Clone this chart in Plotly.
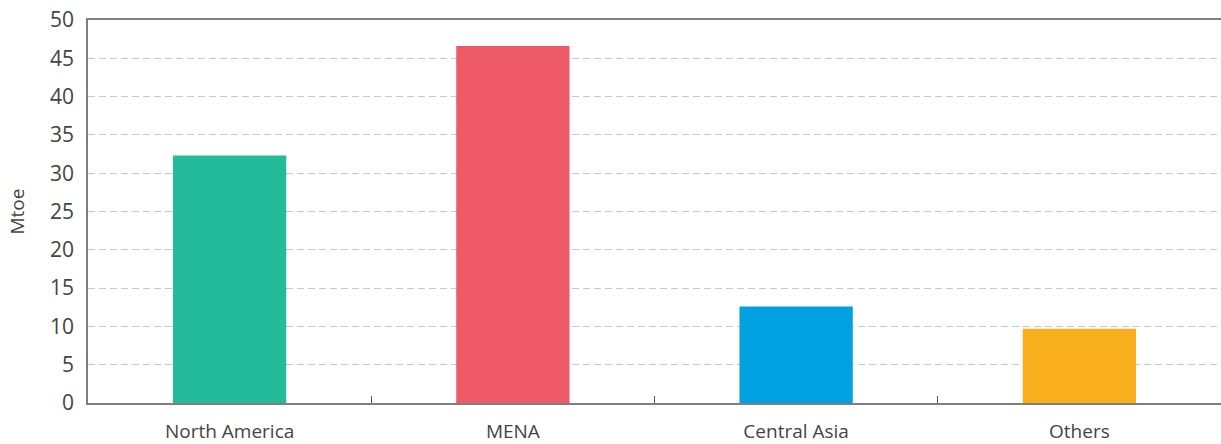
import plotly.graph_objects as go

categories = ["North America", "MENA", "Central Asia", "Others"]
values = [32.3, 46.6, 12.6, 9.7]
colors = ["#24BB9B", "#EF5A69", "#00A0E1", "#F8AE1D"]
y_ticks = [0, 5, 10, 15, 20, 25, 30, 35, 40, 45, 50]

fig = go.Figure(
    go.Bar(
        x=categories,
        y=values,
        marker=dict(color=colors, line=dict(width=0)),
        width=0.4,
    )
)

fig.update_layout(
    width=1221,
    height=444,
    margin=dict(l=88, r=0, t=20, b=41),
    paper_bgcolor="white",
    plot_bgcolor="white",
    showlegend=False,
    font=dict(family="Open Sans", color="#444444"),
)

fig.update_xaxes(
    showline=True,
    linecolor="#7f7f7f",
    linewidth=1.5,
    mirror=True,
    ticks="inside",
    tickson="boundaries",
    ticklen=7,
    tickcolor="#555555",
    tickwidth=1,
    showgrid=False,
    tickfont=dict(size=19, color="#444444"),
    ticklabelstandoff=10,
)

fig.update_yaxes(
    range=[0, 50],
    tickvals=y_ticks,
    showline=True,
    linecolor="#7f7f7f",
    linewidth=1.5,
    showgrid=True,
    gridcolor="#C8C8C8",
    griddash="7px,4px",
    gridwidth=1,
    zeroline=False,
    tickfont=dict(size=21, color="#444444"),
    ticklabelstandoff=8,
    ticklabeloverflow="allow",
    title=dict(text="Mtoe", font=dict(size=19, color="#444444"), standoff=20),
)

fig.write_html(
    "out.html",
    config={"displayModeBar": False},
    post_script="document.body.style.margin='0';document.body.style.overflow='hidden';",
)
